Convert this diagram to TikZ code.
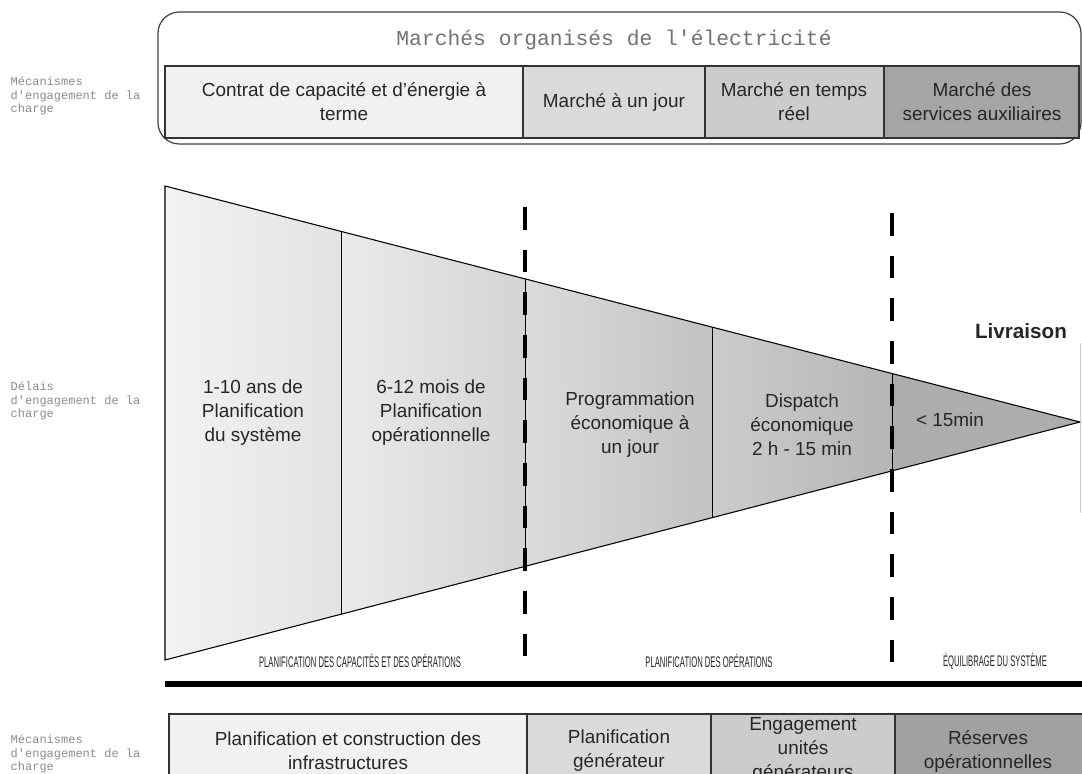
\documentclass[tikz,border=0pt]{standalone}
\usepackage{fontspec}
\setmainfont{Liberation Sans}
\setmonofont{Liberation Mono}
\newfontfamily\narrowfont[FakeStretch=0.5]{Liberation Sans}
\usetikzlibrary{calc}

\definecolor{cellA}{HTML}{F1F1F1}
\definecolor{cellB}{HTML}{DADADA}
\definecolor{cellC}{HTML}{CCCCCC}
\definecolor{cellD}{HTML}{A5A5A5}

\begin{document}
\begin{tikzpicture}[x=0.75pt,y=-0.75pt,
		cell/.style={draw=black!80, line width=0.9pt},
		celltext/.style={align=center, text=black!85, font=\fontsize{14.2}{18}\selectfont},
		sidenote/.style={anchor=west, align=left, text=black!45, font=\ttfamily\fontsize{9}{10}\selectfont},
		phase/.style={text=black!85, font=\narrowfont\fontsize{11.5}{12}\selectfont},
		cutline/.style={line width=3.6pt, dash pattern=on 17pt off 15pt},
		sepline/.style={draw=black, line width=0.6pt}
		]
		
		\useasboundingbox (0,0) rectangle (1082,774);
		\clip (0,0) rectangle (1082,774);
		\fill[white] (0,0) rectangle (1082,774);
		
		% Side notes
		\node[sidenote] (noteTop) at (6,96) {Mécanismes\\d'engagement de la\\charge};
		\node[sidenote] (noteMid) at (6,401) {Délais\\d'engagement de la\\charge};
		\node[sidenote] (noteBot) at (6,754) {Mécanismes\\d'engagement de la\\charge};
		
		% Organised markets
		\draw[black!75, line width=0.9pt, rounded corners=16pt] (158,12) rectangle (1081,144);
		\node[text=black!55, font=\ttfamily\fontsize{16}{18}\selectfont] (title) at (614,40) {Marchés organisés de l'électricité};
		\draw[cell, fill=cellA] (165,66) rectangle (523,138);
		\draw[cell, fill=cellB] (523,66) rectangle (705,138);
		\draw[cell, fill=cellC] (705,66) rectangle (884,138);
		\draw[cell, fill=cellD] (884,66) rectangle (1079,138);
		\node[celltext] (mkA) at (344,102) {Contrat de capacité et d'énergie à\\terme};
		\node[celltext] (mkB) at (614,102) {Marché à un jour};
		\node[celltext] (mkC) at (794,102) {Marché en temps\\réel};
		\node[celltext] (mkD) at (982,102) {Marché des\\services auxiliaires};
		
		% Funnel
		\coordinate (tl) at (165,186);
		\coordinate (bl) at (165,660);
		\coordinate (ap) at (1080,422);
		\coordinate (t1) at ($(tl)!0.1923!(ap)$);
		\coordinate (b1) at ($(bl)!0.1923!(ap)$);
		\coordinate (t2) at ($(tl)!0.3934!(ap)$);
		\coordinate (b2) at ($(bl)!0.3934!(ap)$);
		\coordinate (t3) at ($(tl)!0.5978!(ap)$);
		\coordinate (b3) at ($(bl)!0.5978!(ap)$);
		\coordinate (t4) at ($(tl)!0.7945!(ap)$);
		\coordinate (b4) at ($(bl)!0.7945!(ap)$);
		\shade[left color=black!5, right color=black!11] (tl) -- (t1) -- (b1) -- (bl) -- cycle;
		\shade[left color=black!8, right color=black!17] (t1) -- (t2) -- (b2) -- (b1) -- cycle;
		\shade[left color=black!14, right color=black!24] (t2) -- (t3) -- (b3) -- (b2) -- cycle;
		\shade[left color=black!20, right color=black!29] (t3) -- (t4) -- (b4) -- (b3) -- cycle;
		\fill[black!32] (t4) -- (ap) -- (b4) -- cycle;
		\draw[line width=0.8pt] (tl) -- (ap) -- (bl) -- cycle;
		\draw[sepline] (t1) -- (b1);
		\draw[sepline] (t2) -- (b2);
		\draw[sepline] (t3) -- (b3);
		\draw[sepline] (t4) -- (b4);
		\node[celltext] (stA) at (253,413) {1-10 ans de\\Planification\\du système};
		\node[celltext] (stB) at (431,413) {6-12 mois de\\Planification\\opérationnelle};
		\node[celltext] (stC) at (630,425) {Programmation\\économique à\\un jour};
		\node[celltext] (stD) at (802,425) {Dispatch\\économique\\2 h - 15 min};
		\node[celltext] (stE) at (950,420) {< 15min};
		\node[celltext, font=\bfseries\fontsize{15.5}{18}\selectfont] (deliv) at (1021,331) {Livraison};
		\draw[black!20] (1080,343) -- (1080,513);
		
		% Phase limits
		\draw[cutline] (525,207) -- (525,676);
		\draw[cutline] (892,213) -- (892,684);
		\node[phase] (phA) at (360,661) {PLANIFICATION DES CAPACITÉS ET DES OPÉRATIONS};
		\node[phase] (phB) at (709,661) {PLANIFICATION DES OPÉRATIONS};
		\node[phase] (phC) at (995,661) {ÉQUILIBRAGE DU SYSTÈME};
		\draw[line width=3.8pt] (165,684) -- (1082,684);
		
		% Commitment mechanisms
		\draw[cell, fill=cellA] (169,714) rectangle (527,800);
		\draw[cell, fill=cellB] (527,714) rectangle (711,800);
		\draw[cell, fill=cellC] (711,714) rectangle (895,800);
		\draw[cell, fill=black!37] (895,714) rectangle (1090,800);
		\node[celltext] (mcA) at (348,751) {Planification et construction des\\infrastructures};
		\node[celltext] (mcB) at (619,751) {Planification\\générateur};
		\node[celltext] (mcC) at (803,750) {Engagement\\unités\\générateurs};
		\node[celltext] (mcD) at (988,751) {Réserves\\opérationnelles};
		
	\end{tikzpicture}
\end{document}
